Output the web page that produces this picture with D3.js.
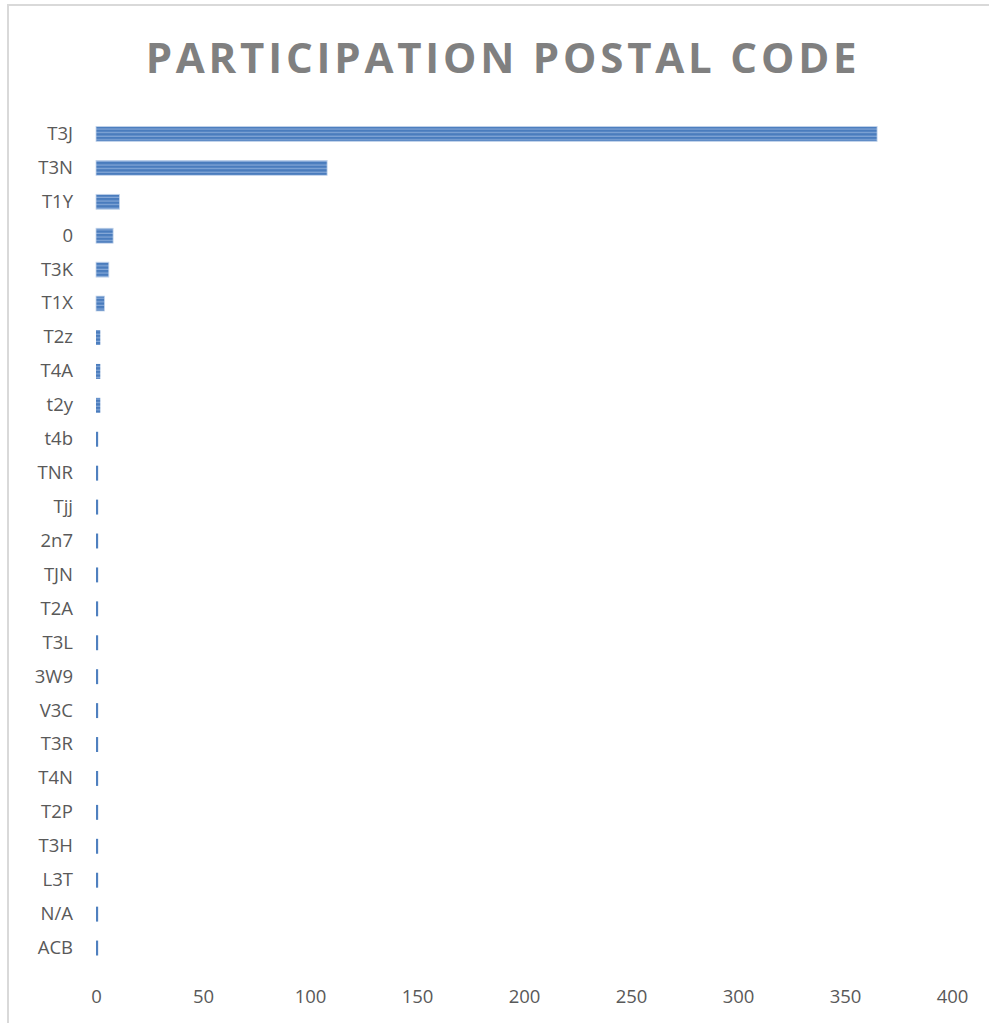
<!DOCTYPE html>
<html>
<head>
  <meta charset="utf-8">
  <script src="https://d3js.org/d3.v7.min.js"></script>
  <style>
    body { margin: 0; background: #fff; }
    svg { display: block; }
  </style>
</head>
<body>
<script>
  // postal codes, top to bottom
  var codes = ["T3J", "T3N", "T1Y", "0", "T3K", "T1X", "T2z", "T4A", "t2y", "t4b",
               "TNR", "Tjj", "2n7", "TJN", "T2A", "T3L", "3W9", "V3C", "T3R", "T4N",
               "T2P", "T3H", "L3T", "N/A", "ACB"];
  var counts = [365, 108, 11, 8, 6, 4, 2, 2, 2, 1,
                1, 1, 1, 1, 1, 1, 1, 1, 1, 1,
                1, 1, 1, 1, 1];
  var xTicks = [0, 50, 100, 150, 200, 250, 300, 350, 400];

  var width = 989, height = 1023;

  var svg = d3.select("body").append("svg")
    .attr("width", width)
    .attr("height", height);

  // striped fill like the office chart
  var defs = svg.append("defs");
  var pat = defs.append("pattern")
    .attr("id", "stripes")
    .attr("patternUnits", "userSpaceOnUse")
    .attr("width", 8)
    .attr("height", 3.6);
  pat.append("rect").attr("width", 8).attr("height", 3.6).attr("fill", "#4a7cbd");
  pat.append("rect").attr("y", 2.4).attr("width", 8).attr("height", 1.2).attr("fill", "#86a9d8");

  // chart frame (only top and left edges are in the picture)
  svg.append("line").attr("x1", 7).attr("x2", width).attr("y1", 5).attr("y2", 5)
    .attr("stroke", "#d9d9d9").attr("stroke-width", 2);
  svg.append("line").attr("x1", 8).attr("x2", 8).attr("y1", 5).attr("y2", height)
    .attr("stroke", "#d9d9d9").attr("stroke-width", 2);

  svg.append("text")
    .attr("x", 503)
    .attr("y", 73)
    .attr("text-anchor", "middle")
    .style("font-family", "'Open Sans', sans-serif")
    .style("font-weight", "bold")
    .style("font-size", "42px")
    .style("fill", "#808080")
    .style("letter-spacing", "3.8px")
    .text("PARTICIPATION POSTAL CODE");

  var x = d3.scaleLinear().domain([0, 400]).range([96, 952]);
  var y = d3.scaleBand().domain(codes).range([107.5, 974.5]).padding(0.56);

  svg.selectAll("rect.bar")
    .data(codes)
    .enter()
    .append("rect")
    .attr("class", "bar")
    .attr("x", x(0))
    .attr("y", function(d) { return y(d); })
    .attr("width", function(d, i) { return x(counts[i]) - x(0); })
    .attr("height", y.bandwidth())
    .attr("fill", function(d, i) { return counts[i] > 1 ? "url(#stripes)" : "#4f80bf"; })
    .attr("stroke", "#c6d6ec")
    .attr("stroke-width", function(d, i) { return counts[i] > 3 ? 0.8 : 0; });

  var yAxis = svg.append("g")
    .attr("transform", "translate(" + x(0) + ",0)")
    .call(d3.axisLeft(y).tickSize(0).tickPadding(23));
  yAxis.select(".domain").remove();
  yAxis.selectAll("text")
    .style("font-family", "'Open Sans', sans-serif")
    .style("font-size", "18.5px")
    .style("fill", "#595959");

  var xAxis = svg.append("g")
    .attr("transform", "translate(0,990)")
    .call(d3.axisBottom(x).tickValues(xTicks).tickSize(0).tickPadding(0));
  xAxis.select(".domain").remove();
  xAxis.selectAll("text")
    .style("font-family", "'Open Sans', sans-serif")
    .style("font-size", "18.5px")
    .style("fill", "#595959");
</script>
</body>
</html>
